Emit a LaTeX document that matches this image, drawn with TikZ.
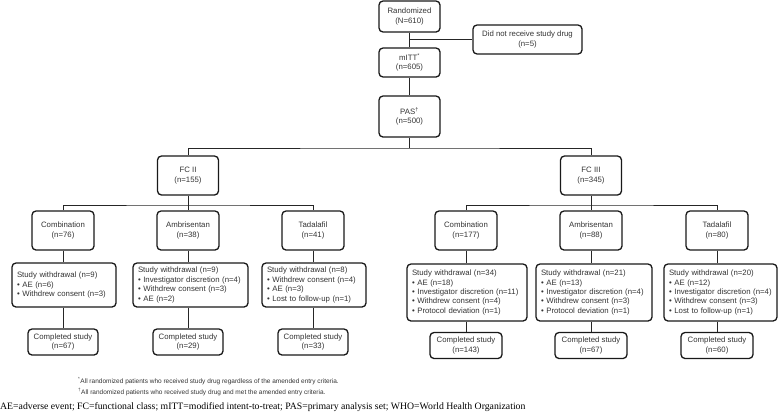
\documentclass[tikz,border=0pt]{standalone}
\usepackage{fontspec}
\setmainfont{Liberation Sans}
\newfontfamily\bottomserif{Liberation Serif}
\begin{document}
\begin{tikzpicture}[x=1pt,y=-1pt,
  box/.style={draw=black!90, line width=1.3pt, rounded corners=4pt, align=center,
    font=\fontsize{7.8}{9.4}\selectfont, text=black!80, inner sep=0pt},
  wbox/.style={box, align=left, inner xsep=5pt, inner ysep=0pt},
  conn/.style={draw=black!85, line width=0.9pt},
  note/.style={anchor=west, inner sep=0pt, text=black!80, font=\fontsize{6.5}{7.5}\selectfont}
]
\useasboundingbox (0,0) rectangle (778,416);
% top chain
\node[box, minimum width=61pt, minimum height=31pt] (rand) at (409.5,16.5) {Randomized\\(N=610)};
\node[box, minimum width=109pt, minimum height=29pt] (dnr) at (527.5,39.5) {Did not receive study drug\\(n=5)};
\node[box, minimum width=61pt, minimum height=29pt] (mitt) at (409.5,62.5) {mITT\textsuperscript{*}\\(n=605)};
\node[box, minimum width=61pt, minimum height=41pt] (pas) at (409.5,116.5) {PAS\textsuperscript{†}\\(n=500)};
\draw[conn] (rand) -- (mitt);
\draw[conn] (rand.south |- dnr.west) -- (dnr.west);
\draw[conn] (mitt) -- (pas);
% FC level
\node[box, minimum width=61pt, minimum height=39pt] (fc2) at (188,175.5) {FC II\\(n=155)};
\node[box, minimum width=61pt, minimum height=39pt] (fc3) at (591,175.5) {FC III\\(n=345)};
\coordinate (sp) at (409.5,148);
\draw[conn] (pas.south) -- (sp);
\draw[conn] (fc2.north) |- (sp) -| (fc3.north);
% arms
\node[box, minimum width=62pt, minimum height=39pt] (a1) at (63,230.5) {Combination\\(n=76)};
\node[box, minimum width=62pt, minimum height=39pt] (a2) at (188,230.5) {Ambrisentan\\(n=38)};
\node[box, minimum width=62pt, minimum height=39pt] (a3) at (313,230.5) {Tadalafil\\(n=41)};
\node[box, minimum width=62pt, minimum height=39pt] (b1) at (466,230.5) {Combination\\(n=177)};
\node[box, minimum width=62pt, minimum height=39pt] (b2) at (591,230.5) {Ambrisentan\\(n=88)};
\node[box, minimum width=62pt, minimum height=39pt] (b3) at (717,230.5) {Tadalafil\\(n=80)};
\coordinate (s2) at (188,205);
\coordinate (s3) at (591,205);
\draw[conn] (fc2.south) -- (s2);
\draw[conn] (a1.north) |- (s2) -| (a3.north);
\draw[conn] (s2) -- (a2.north);
\draw[conn] (fc3.south) -- (s3);
\draw[conn] (b1.north) |- (s3) -| (b3.north);
\draw[conn] (s3) -- (b2.north);
% withdrawal boxes
\node[wbox, text width=94pt, minimum height=44pt] (w1) at (64,285) {Study withdrawal (n=9)\\• AE (n=6)\\• Withdrew consent (n=3)};
\node[wbox, text width=105pt, minimum height=44pt] (w2) at (190.5,285) {Study withdrawal (n=9)\\• Investigator discretion (n=4)\\• Withdrew consent (n=3)\\• AE (n=2)};
\node[wbox, text width=94pt, minimum height=44pt] (w3) at (314,285) {Study withdrawal (n=8)\\• Withdrew consent (n=4)\\• AE (n=3)\\• Lost to follow-up (n=1)};
\node[wbox, text width=110pt, minimum height=57pt] (w4) at (467,292.5) {Study withdrawal (n=34)\\• AE (n=18)\\• Investigator discretion (n=11)\\• Withdrew consent (n=4)\\• Protocol deviation (n=1)};
\node[wbox, text width=106pt, minimum height=57pt] (w5) at (594,292.5) {Study withdrawal (n=21)\\• AE (n=13)\\• Investigator discretion (n=4)\\• Withdrew consent (n=3)\\• Protocol deviation (n=1)};
\node[wbox, text width=103pt, minimum height=57pt] (w6) at (720.5,292.5) {Study withdrawal (n=20)\\• AE (n=12)\\• Investigator discretion (n=4)\\• Withdrew consent (n=3)\\• Lost to follow-up (n=1)};
\foreach \a/\w in {a1/w1,a2/w2,a3/w3,b1/w4,b2/w5,b3/w6}
  \draw[conn] (\a.south) -- (\a.south |- \w.north);
% completed boxes
\node[box, minimum width=70pt, minimum height=26pt] (c1) at (63,342) {Completed study\\(n=67)};
\node[box, minimum width=70pt, minimum height=26pt] (c2) at (188,342) {Completed study\\(n=29)};
\node[box, minimum width=70pt, minimum height=26pt] (c3) at (313,342) {Completed study\\(n=33)};
\node[box, minimum width=72pt, minimum height=26pt] (c4) at (466,345.5) {Completed study\\(n=143)};
\node[box, minimum width=72pt, minimum height=26pt] (c5) at (591,345.5) {Completed study\\(n=67)};
\node[box, minimum width=72pt, minimum height=26pt] (c6) at (717,345.5) {Completed study\\(n=60)};
\foreach \w/\c in {w1/c1,w2/c2,w3/c3,w4/c4,w5/c5,w6/c6}
  \draw[conn] (\w.south -| \c.north) -- (\c.north);
% notes
\node[note] (n1) at (78,381) {\textsuperscript{*}All randomized patients who received study drug regardless of the amended entry criteria.};
\node[note] (n2) at (78,392) {\textsuperscript{†}All randomized patients who received study drug and met the amended entry criteria.};
\node[anchor=west, inner sep=0pt, font=\bottomserif\fontsize{9.75}{11}\selectfont] (abbr) at (0,407) {AE=adverse event; FC=functional class; mITT=modified intent-to-treat; PAS=primary analysis set; WHO=World Health Organization};
\end{tikzpicture}
\end{document}
